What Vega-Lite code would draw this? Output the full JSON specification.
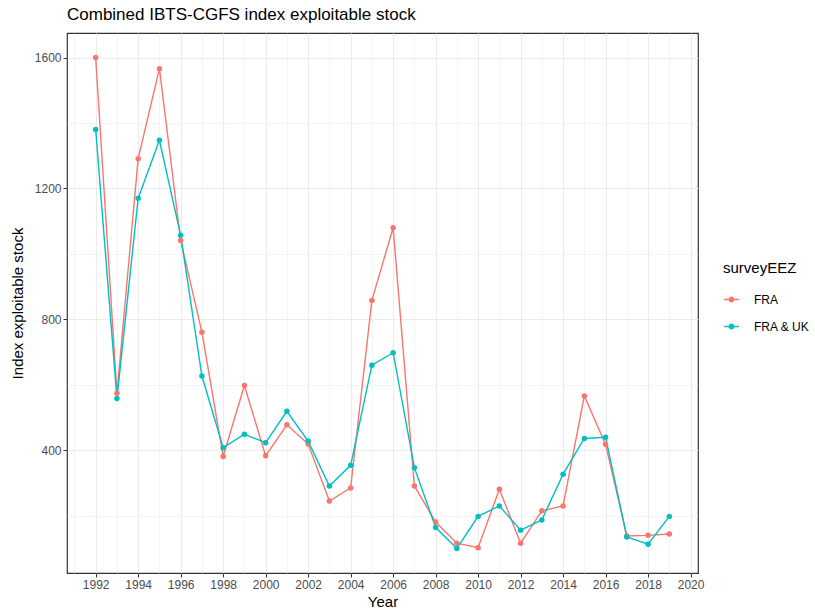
{
  "$schema": "https://vega.github.io/schema/vega-lite/v6.json",
  "autosize": "none",
  "width": 631,
  "height": 540,
  "padding": {"left": 67, "top": 33, "right": 117, "bottom": 41},
  "background": "white",
  "config": {
    "font": "Liberation Sans",
    "view": {"stroke": "#333333", "strokeWidth": 1.2},
    "axis": {"labelFont": "Liberation Sans", "titleFont": "Liberation Sans", "labelColor": "#4d4d4d", "labelFontSize": 12, "titleFontSize": 15, "titleFontWeight": "normal", "titleColor": "#000000", "domain": false, "tickColor": "#333333", "tickSize": 4, "labelPadding": 2}
  },
  "title": {"text": "Combined IBTS-CGFS index exploitable stock", "anchor": "start", "frame": "group", "fontSize": 17, "fontWeight": "normal", "font": "Liberation Sans", "color": "#000000", "offset": 9},
  "data": {"values": [
    {"Year": 1992, "surveyEEZ": "FRA", "index": 1600}, {"Year": 1992, "surveyEEZ": "FRA & UK", "index": 1380},
    {"Year": 1993, "surveyEEZ": "FRA", "index": 574}, {"Year": 1993, "surveyEEZ": "FRA & UK", "index": 558},
    {"Year": 1994, "surveyEEZ": "FRA", "index": 1291}, {"Year": 1994, "surveyEEZ": "FRA & UK", "index": 1170},
    {"Year": 1995, "surveyEEZ": "FRA", "index": 1566}, {"Year": 1995, "surveyEEZ": "FRA & UK", "index": 1347},
    {"Year": 1996, "surveyEEZ": "FRA", "index": 1041}, {"Year": 1996, "surveyEEZ": "FRA & UK", "index": 1057},
    {"Year": 1997, "surveyEEZ": "FRA", "index": 761}, {"Year": 1997, "surveyEEZ": "FRA & UK", "index": 627},
    {"Year": 1998, "surveyEEZ": "FRA", "index": 381}, {"Year": 1998, "surveyEEZ": "FRA & UK", "index": 408},
    {"Year": 1999, "surveyEEZ": "FRA", "index": 598}, {"Year": 1999, "surveyEEZ": "FRA & UK", "index": 449},
    {"Year": 2000, "surveyEEZ": "FRA", "index": 383}, {"Year": 2000, "surveyEEZ": "FRA & UK", "index": 423},
    {"Year": 2001, "surveyEEZ": "FRA", "index": 478}, {"Year": 2001, "surveyEEZ": "FRA & UK", "index": 519},
    {"Year": 2002, "surveyEEZ": "FRA", "index": 419}, {"Year": 2002, "surveyEEZ": "FRA & UK", "index": 428},
    {"Year": 2003, "surveyEEZ": "FRA", "index": 245}, {"Year": 2003, "surveyEEZ": "FRA & UK", "index": 291},
    {"Year": 2004, "surveyEEZ": "FRA", "index": 285}, {"Year": 2004, "surveyEEZ": "FRA & UK", "index": 354},
    {"Year": 2005, "surveyEEZ": "FRA", "index": 858}, {"Year": 2005, "surveyEEZ": "FRA & UK", "index": 660},
    {"Year": 2006, "surveyEEZ": "FRA", "index": 1080}, {"Year": 2006, "surveyEEZ": "FRA & UK", "index": 698},
    {"Year": 2007, "surveyEEZ": "FRA", "index": 291}, {"Year": 2007, "surveyEEZ": "FRA & UK", "index": 347},
    {"Year": 2008, "surveyEEZ": "FRA", "index": 181}, {"Year": 2008, "surveyEEZ": "FRA & UK", "index": 164},
    {"Year": 2009, "surveyEEZ": "FRA", "index": 116}, {"Year": 2009, "surveyEEZ": "FRA & UK", "index": 100},
    {"Year": 2010, "surveyEEZ": "FRA", "index": 102}, {"Year": 2010, "surveyEEZ": "FRA & UK", "index": 198},
    {"Year": 2011, "surveyEEZ": "FRA", "index": 281}, {"Year": 2011, "surveyEEZ": "FRA & UK", "index": 230},
    {"Year": 2012, "surveyEEZ": "FRA", "index": 116}, {"Year": 2012, "surveyEEZ": "FRA & UK", "index": 156},
    {"Year": 2013, "surveyEEZ": "FRA", "index": 215}, {"Year": 2013, "surveyEEZ": "FRA & UK", "index": 187},
    {"Year": 2014, "surveyEEZ": "FRA", "index": 230}, {"Year": 2014, "surveyEEZ": "FRA & UK", "index": 327},
    {"Year": 2015, "surveyEEZ": "FRA", "index": 566}, {"Year": 2015, "surveyEEZ": "FRA & UK", "index": 436},
    {"Year": 2016, "surveyEEZ": "FRA", "index": 418}, {"Year": 2016, "surveyEEZ": "FRA & UK", "index": 440},
    {"Year": 2017, "surveyEEZ": "FRA", "index": 138}, {"Year": 2017, "surveyEEZ": "FRA & UK", "index": 135},
    {"Year": 2018, "surveyEEZ": "FRA", "index": 140}, {"Year": 2018, "surveyEEZ": "FRA & UK", "index": 113},
    {"Year": 2019, "surveyEEZ": "FRA", "index": 144}, {"Year": 2019, "surveyEEZ": "FRA & UK", "index": 198}
  ]},
  "encoding": {
    "x": {"field": "Year", "type": "quantitative",
      "scale": {"domain": [1990.65, 2020.35], "nice": false, "zero": false},
      "axis": {"values": [1991,1992,1993,1994,1995,1996,1997,1998,1999,2000,2001,2002,2003,2004,2005,2006,2007,2008,2009,2010,2011,2012,2013,2014,2015,2016,2017,2018,2019,2020],
        "labelExpr": "datum.value % 2 == 0 ? datum.value : ''",
        "format": "d",
        "title": "Year", "titlePadding": 4,
        "grid": true, "gridColor": "#ebebeb",
        "gridWidth": {"condition": {"test": "datum.value % 2 == 0", "value": 1.1}, "value": 0.55},
        "tickColor": {"condition": {"test": "datum.value % 2 == 0", "value": "#333333"}, "value": "transparent"}}},
    "y": {"field": "index", "type": "quantitative",
      "scale": {"domain": [25, 1675], "nice": false, "zero": false},
      "axis": {"values": [200,400,600,800,1000,1200,1400,1600],
        "labelExpr": "datum.value % 400 == 0 ? datum.value : ''",
        "title": "Index exploitable stock", "titlePadding": 9,
        "grid": true, "gridColor": "#ebebeb",
        "gridWidth": {"condition": {"test": "datum.value % 400 == 0", "value": 1.1}, "value": 0.55},
        "tickColor": {"condition": {"test": "datum.value % 400 == 0", "value": "#333333"}, "value": "transparent"}}},
    "color": {"field": "surveyEEZ", "type": "nominal",
      "scale": {"domain": ["FRA", "FRA & UK"], "range": ["#F8766D", "#00BFC4"]},
      "legend": {"title": "surveyEEZ", "orient": "none", "legendX": 656, "legendY": 228,
        "titleFontSize": 15, "titleFontWeight": "normal", "titleColor": "#000000", "titleFont": "Liberation Sans",
        "labelFontSize": 12, "labelFont": "Liberation Sans", "labelColor": "#000000",
        "symbolType": "M-1,0H1M0.3,0A0.3,0.3 0 1,1 -0.3,0A0.3,0.3 0 1,1 0.3,0",
        "symbolSize": 220, "symbolStrokeWidth": 1.5, "rowPadding": 12, "titlePadding": 15, "labelOffset": 14}}
  },
  "layer": [
    {"mark": {"type": "line", "strokeWidth": 1.4}},
    {"mark": {"type": "point", "filled": true, "size": 30, "opacity": 1}}
  ]
}
